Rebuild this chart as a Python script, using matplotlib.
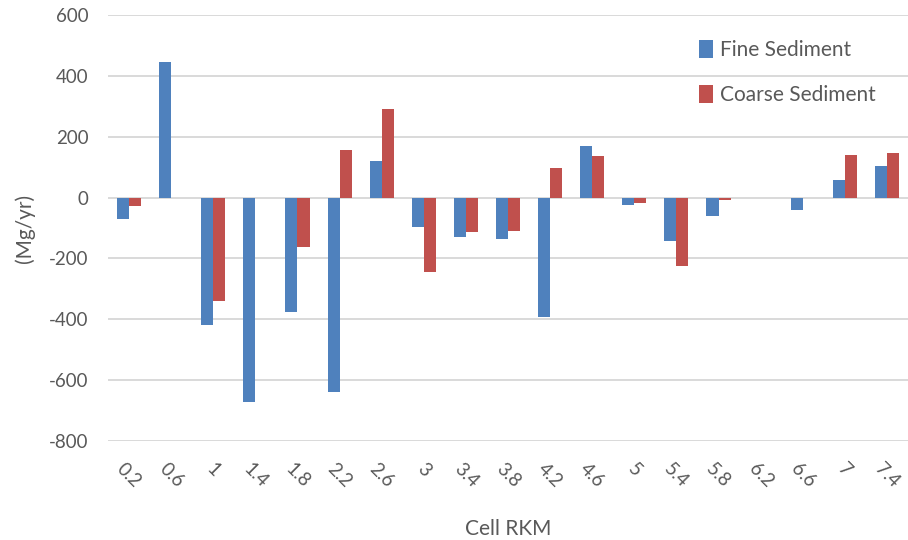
import numpy as np
from matplotlib import pyplot as plt

# Cell RKM categories
cells = ["0.2", "0.6", "1", "1.4", "1.8", "2.2", "2.6", "3", "3.4", "3.8",
         "4.2", "4.6", "5", "5.4", "5.8", "6.2", "6.6", "7", "7.4"]
# Mg/yr
fine = [-71, 445, -419, -673, -377, -638, 119, -98, -128, -135,
        -392, 168, -23, -142, -62, 0, -42, 57, 104]
coarse = [-27, 0, -340, 0, -162, 155, 292, -244, -112, -110,
          98, 137, -18, -224, -8, 0, 0, 141, 148]

yticks = [600, 400, 200, 0, -200, -400, -600, -800]

blue = "#4F81BD"
red = "#C0504D"
txt = "#595959"

plt.rcParams['font.family'] = ['Lato', 'DejaVu Sans']

fig = plt.figure(figsize=(9.08, 5.40), dpi=100)
ax = fig.add_axes([108 / 908, 1 - 441 / 540, 800 / 908, 426 / 540])

x = np.arange(len(cells))
w = 0.286
ax.bar(x - w / 2, fine, w, color=blue, label="Fine Sediment", zorder=3,
       linewidth=0)
ax.bar(x + w / 2, coarse, w, color=red, label="Coarse Sediment", zorder=3,
       linewidth=0)

ax.set_ylim(-800, 600)
ax.set_xlim(-0.5, len(cells) - 0.5)
ax.set_yticks(yticks)
ax.set_yticklabels([str(v) for v in yticks])
ax.set_xticks(x)
ax.set_xticklabels(cells, rotation=-45, ha="center", va="top")
ax.tick_params(length=0, labelsize=13.5, colors=txt)
ax.tick_params(axis="x", pad=14)
ax.tick_params(axis="y", pad=14)
ax.grid(axis="y", color="#D9D9D9", linewidth=1.4, zorder=0)
for s in ax.spines.values():
    s.set_visible(False)

ax.set_xlabel("Cell RKM", fontsize=15, color=txt, labelpad=20)
ax.set_ylabel("(Mg/yr)", fontsize=15, color=txt, labelpad=10)

ax.legend(loc="upper left", bbox_to_anchor=(0.715, 0.985), frameon=False,
          fontsize=15, labelcolor=txt, handlelength=0.7, handleheight=0.9,
          handletextpad=0.3, labelspacing=1.2)

fig.savefig("out.png", dpi=100)
